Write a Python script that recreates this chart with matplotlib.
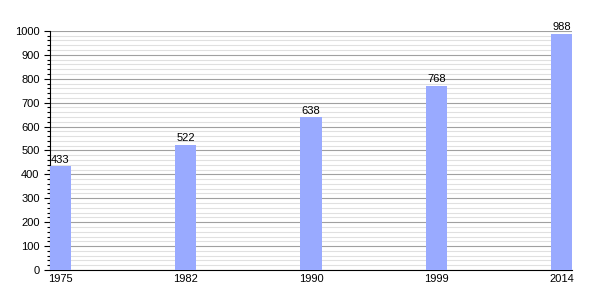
import numpy as np
import matplotlib.pyplot as plt
from matplotlib.ticker import MultipleLocator

plt.rcParams['font.family'] = ['Liberation Sans', 'DejaVu Sans']

# Population by census year
years = ['1975', '1982', '1990', '1999', '2014']
population = [433, 522, 638, 768, 988]

fig = plt.figure(figsize=(6, 3), dpi=100)
ax = fig.add_axes([0.0833, 0.1, 0.87, 0.797])

x = np.arange(len(years))
w = 0.168
bars = ax.bar(x, population, width=w, color='#99aaff', zorder=3)

for xi, v in zip(x, population):
    ax.text(xi, v + 8, str(v), ha='center', va='bottom', fontsize=8)

ax.set_xlim(-w / 2, len(years) - 1 + w / 2)
ax.set_ylim(0, 1000)
ax.set_xticks(x)
ax.set_xticklabels(years)
ax.yaxis.set_major_locator(MultipleLocator(100))
ax.yaxis.set_minor_locator(MultipleLocator(20))

ax.grid(axis='y', which='major', color='#a0a0a0', linewidth=0.8, zorder=0)
ax.grid(axis='y', which='minor', color='#e0e0e0', linewidth=0.8, zorder=0)

ax.tick_params(axis='both', labelsize=8)
ax.tick_params(axis='x', length=0, pad=3)
ax.tick_params(axis='y', which='major', length=4, width=0.8)
ax.tick_params(axis='y', which='minor', length=2, width=0.8)

ax.spines['top'].set_visible(False)
ax.spines['right'].set_visible(False)

fig.savefig('out.png', dpi=100)
